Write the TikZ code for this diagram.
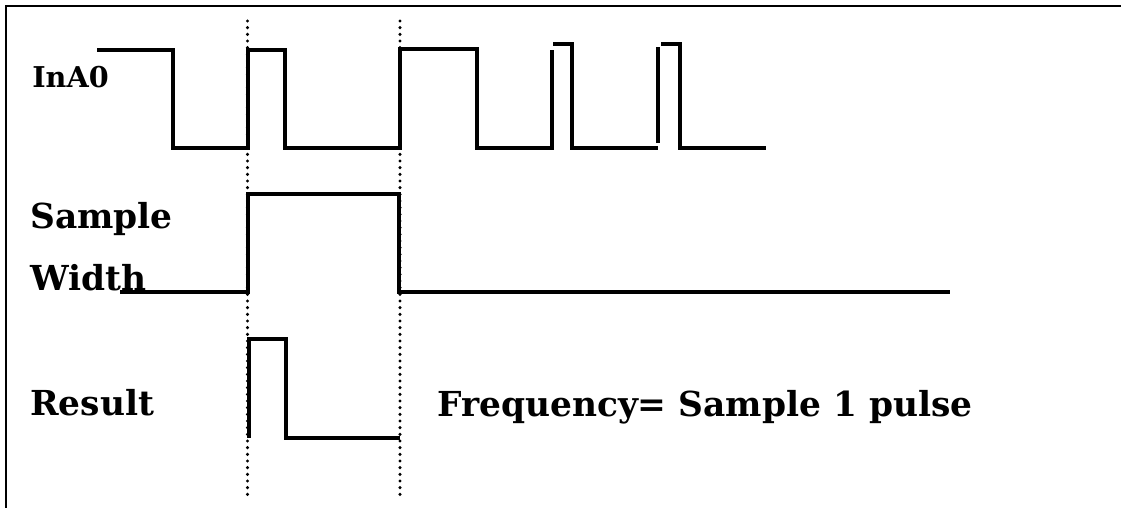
\documentclass[tikz,border=0pt]{standalone}
\usepackage{fontspec}
\setmainfont{DejaVu Serif}

\begin{document}
\begin{tikzpicture}[x=0.75pt, y=-0.75pt,
    wave/.style={line width=2.6pt, line join=miter},
    marker/.style={line width=2.6pt, line cap=round, dash pattern=on 0pt off 5pt},
    lbl/.style={anchor=base west, inner sep=0pt, font=\bfseries\fontsize{25.8}{30}\selectfont}]
    \useasboundingbox (0,0) rectangle (1121,508);

    % open frame: top and left edge only
    \draw[line width=1.8pt] (1121,6) -- (6,6) -- (6,508);

    % sampling window
    \draw[marker] (247.5,21) -- (247.5,500);
    \draw[marker] (400,21) -- (400,500);

    % input pulse train
    \draw[wave] (97,50) -- (173,50) -- (173,148) -- (248,148) -- (248,50) -- (285,50)
        -- (285,148) -- (400,148) -- (400,49) -- (477,49) -- (477,148) -- (552,148) -- (552,50);
    \draw[wave] (553,44) -- (572,44) -- (572,148) -- (658,148);
    \draw[wave] (658,143) -- (658,47);
    \draw[wave] (661,44) -- (680,44) -- (680,148) -- (766,148);

    % gate
    \draw[wave] (120,292) -- (248,292) -- (248,194) -- (399,194) -- (399,292) -- (950,292);

    % counted pulse
    \draw[wave] (249,438) -- (249,339) -- (286,339) -- (286,438) -- (400,438);

    \node[lbl, font=\bfseries\fontsize{21.5}{26}\selectfont] (inA) at (32,87) {InA0};
    \node[lbl] (smp) at (30,228) {Sample};
    \node[lbl] (wid) at (30,290) {Width};
    \node[lbl] (res) at (30,415) {Result};
    \node[lbl] (frq) at (437,416) {Frequency= Sample 1 pulse};
\end{tikzpicture}
\end{document}
